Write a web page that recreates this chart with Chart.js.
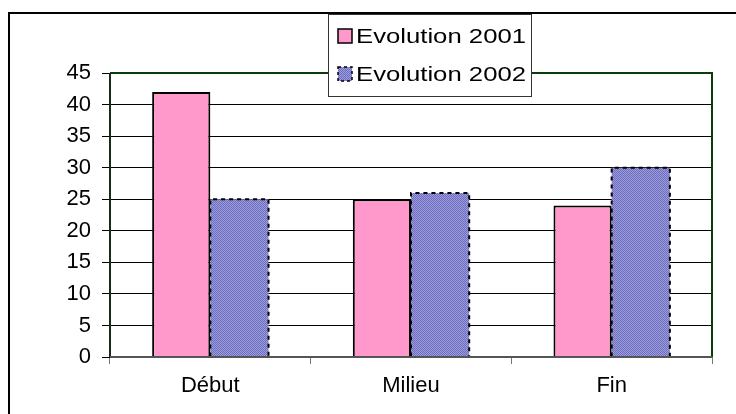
<!DOCTYPE html>
<html>
<head>
<meta charset="utf-8">
<script src="https://cdn.jsdelivr.net/npm/chart.js@4.4.0/dist/chart.umd.min.js"></script>
<style>
html,body{margin:0;padding:0;background:#fff;}
#wrap{width:736px;height:414px;position:relative;}
</style>
</head>
<body>
<div id="wrap"><canvas id="c" width="736" height="414"></canvas></div>
<script>
const categories = ["Début", "Milieu", "Fin"];
const seriesNames = ["Evolution 2001", "Evolution 2002"];
const values2001 = [42, 25, 24];
const values2002 = [25, 26, 30];
const yTicks = [0, 5, 10, 15, 20, 25, 30, 35, 40, 45];

const FONT = "'Liberation Sans', Arial, sans-serif";
const PINK = "#ff99cc";

function makePattern(){
  const p = document.createElement('canvas');
  p.width = 2; p.height = 2;
  const g = p.getContext('2d');
  g.fillStyle = '#9c9ce6'; g.fillRect(0,0,2,2);
  g.fillStyle = '#6e6eb4'; g.fillRect(0,0,1,1); g.fillRect(1,1,1,1);
  return g.createPattern(p, 'repeat');
}
const ctx0 = document.getElementById('c').getContext('2d');
const PURPLE = makePattern();

const framePlugin = {
  id: 'frame',
  beforeDraw(chart){
    const c = chart.ctx;
    c.save();
    c.fillStyle = '#fff';
    c.fillRect(0,0,chart.width,chart.height);
    c.strokeStyle = '#000';
    c.lineWidth = 2;
    c.beginPath();
    c.moveTo(9, 420); c.lineTo(9, 13); c.lineTo(740, 13);
    c.stroke();
    c.restore();
  },
  afterDatasetsDraw(chart){
    const c = chart.ctx;
    const a = chart.chartArea;
    const meta = chart.getDatasetMeta(1);
    c.save();
    c.strokeStyle = '#000';
    c.lineWidth = 2;
    c.setLineDash([4,4]);
    meta.data.forEach(el => {
      const p = el.getProps(['x','y','base','width'], true);
      const l = p.x - p.width/2, r = p.x + p.width/2;
      c.beginPath();
      c.moveTo(l, p.base); c.lineTo(l, p.y); c.lineTo(r, p.y); c.lineTo(r, p.base);
      c.stroke();
    });
    c.restore();
    c.save();
    c.strokeStyle = '#0a3d0a';
    c.lineWidth = 2;
    c.beginPath();
    c.moveTo(a.left, a.top); c.lineTo(a.right, a.top); c.lineTo(a.right, a.bottom);
    c.stroke();
    c.strokeStyle = '#1a2a1a';
    c.beginPath();
    c.moveTo(a.left, a.top); c.lineTo(a.left, a.bottom);
    c.stroke();
    c.strokeStyle = '#555';
    c.beginPath();
    c.moveTo(a.left, a.bottom); c.lineTo(a.right, a.bottom);
    c.stroke();
    c.restore();
  },
  afterDraw(chart){
    const c = chart.ctx;
    const bx = 328.5, by = 14.5, bw = 203, bh = 82;
    c.save();
    c.fillStyle = '#fff';
    c.fillRect(bx, by, bw, bh);
    c.strokeStyle = '#333';
    c.lineWidth = 1;
    c.strokeRect(bx, by, bw, bh);
    c.font = '21px ' + FONT;
    c.textBaseline = 'middle';
    const ds = chart.data.datasets;
    const rows = [36, 74];
    ds.forEach((d, i) => {
      const cy = rows[i];
      c.fillStyle = d.backgroundColor;
      c.fillRect(338, cy-7, 14, 14);
      c.strokeStyle = '#000';
      c.lineWidth = 1.5;
      if (i === 1) c.setLineDash([3,3]); else c.setLineDash([]);
      c.strokeRect(338, cy-7, 14, 14);
      c.setLineDash([]);
      c.fillStyle = '#000';
      const w = c.measureText(d.label).width;
      const sx = 170 / w;
      c.save();
      c.translate(356, cy+1);
      c.scale(sx, 1);
      c.fillText(d.label, 0, 0);
      c.restore();
    });
    c.restore();
  }
};

new Chart(ctx0, {
  type: 'bar',
  data: {
    labels: categories,
    datasets: [
      { label: seriesNames[0], data: values2001, backgroundColor: PINK, borderColor: '#000', borderWidth: 2, borderSkipped: 'bottom' },
      { label: seriesNames[1], data: values2002, backgroundColor: PURPLE, borderWidth: 0 }
    ]
  },
  options: {
    responsive: false,
    animation: false,
    devicePixelRatio: 1,
    layout: { padding: { top: 73, right: 24, left: 0, bottom: 0 } },
    datasets: { bar: { categoryPercentage: 0.58, barPercentage: 1.0 } },
    plugins: { legend: { display: false }, tooltip: { enabled: false }, title: { display: false } },
    scales: {
      x: {
        grid: { display: true, drawOnChartArea: false, drawTicks: true, tickLength: 7, color: '#777', offset: true },
        border: { display: false },
        ticks: { color: '#000', font: { family: FONT, size: 22 }, padding: 9, maxRotation: 0 },
        afterFit(s){ s.height = 57; }
      },
      y: {
        min: 0, max: 45,
        afterBuildTicks(s){ s.ticks = yTicks.map(v => ({ value: v })); },
        grid: { color: '#000', lineWidth: 1, tickLength: 8, drawTicks: true },
        border: { display: false },
        ticks: { color: '#000', font: { family: FONT, size: 22 }, padding: 11 },
        afterFit(s){ s.width = 110; }
      }
    }
  },
  plugins: [framePlugin]
});
</script>
</body>
</html>
